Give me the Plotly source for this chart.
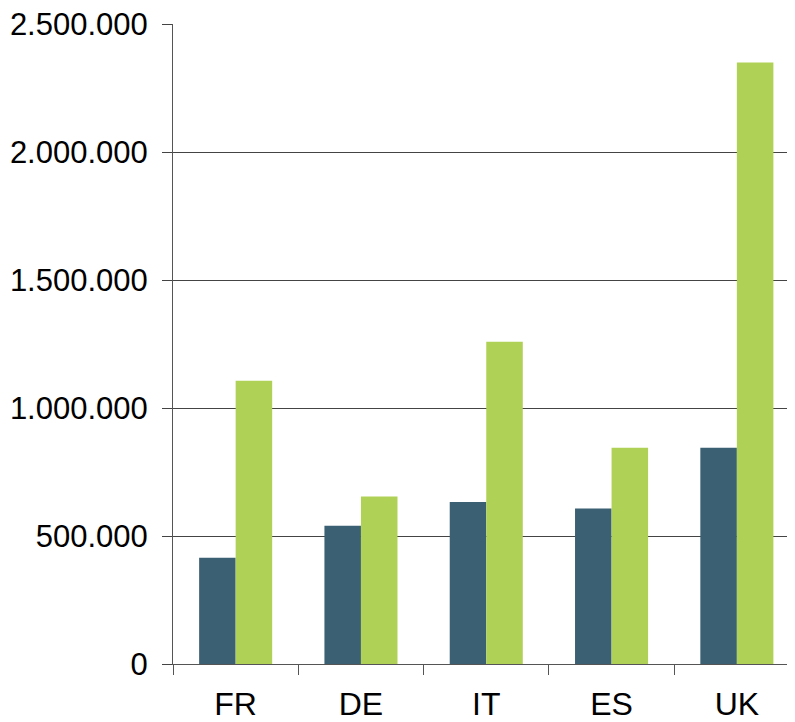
import plotly.graph_objects as go

countries = ["FR", "DE", "IT", "ES", "UK"]
series_dark = [415000, 540000, 633000, 607000, 845000]
series_green = [1106000, 654000, 1259000, 845000, 2350000]
y_ticks = [0, 500000, 1000000, 1500000, 2000000, 2500000]

fig = go.Figure()
fig.add_trace(go.Bar(x=countries, y=series_dark, marker_color="#3B6073",
                     marker_line_width=0, name="A"))
fig.add_trace(go.Bar(x=countries, y=series_green, marker_color="#AFD155",
                     marker_line_width=0, name="B"))

# page has an 8px body margin, so margins are shifted to compensate
fig.update_layout(
    width=795,
    height=714,
    barmode="group",
    bargap=0.417,
    bargroupgap=0,
    showlegend=False,
    separators=",.",
    plot_bgcolor="white",
    paper_bgcolor="white",
    font=dict(family="Liberation Sans, Arial, sans-serif", size=31, color="black"),
    margin=dict(l=165, r=8, t=16, b=58),
)

fig.update_xaxes(
    range=[-0.5, 4.464],
    showline=True,
    linecolor="#555",
    linewidth=1,
    ticks="outside",
    tickson="boundaries",
    ticklen=10,
    tickcolor="#555",
    showgrid=False,
    tickfont=dict(size=32),
    ticklabelstandoff=12,
    ticklabeloverflow="allow",
    automargin=False,
)
fig.update_yaxes(
    range=[0, 2500000],
    tickvals=y_ticks,
    tickformat=",d",
    showline=True,
    linecolor="#555",
    linewidth=1,
    ticks="outside",
    ticklen=10,
    tickcolor="#444",
    showgrid=True,
    gridcolor="#444",
    gridwidth=1,
    zeroline=False,
    ticklabelstandoff=8,
    ticklabeloverflow="allow",
    automargin=False,
)

fig.write_html("out.html")
